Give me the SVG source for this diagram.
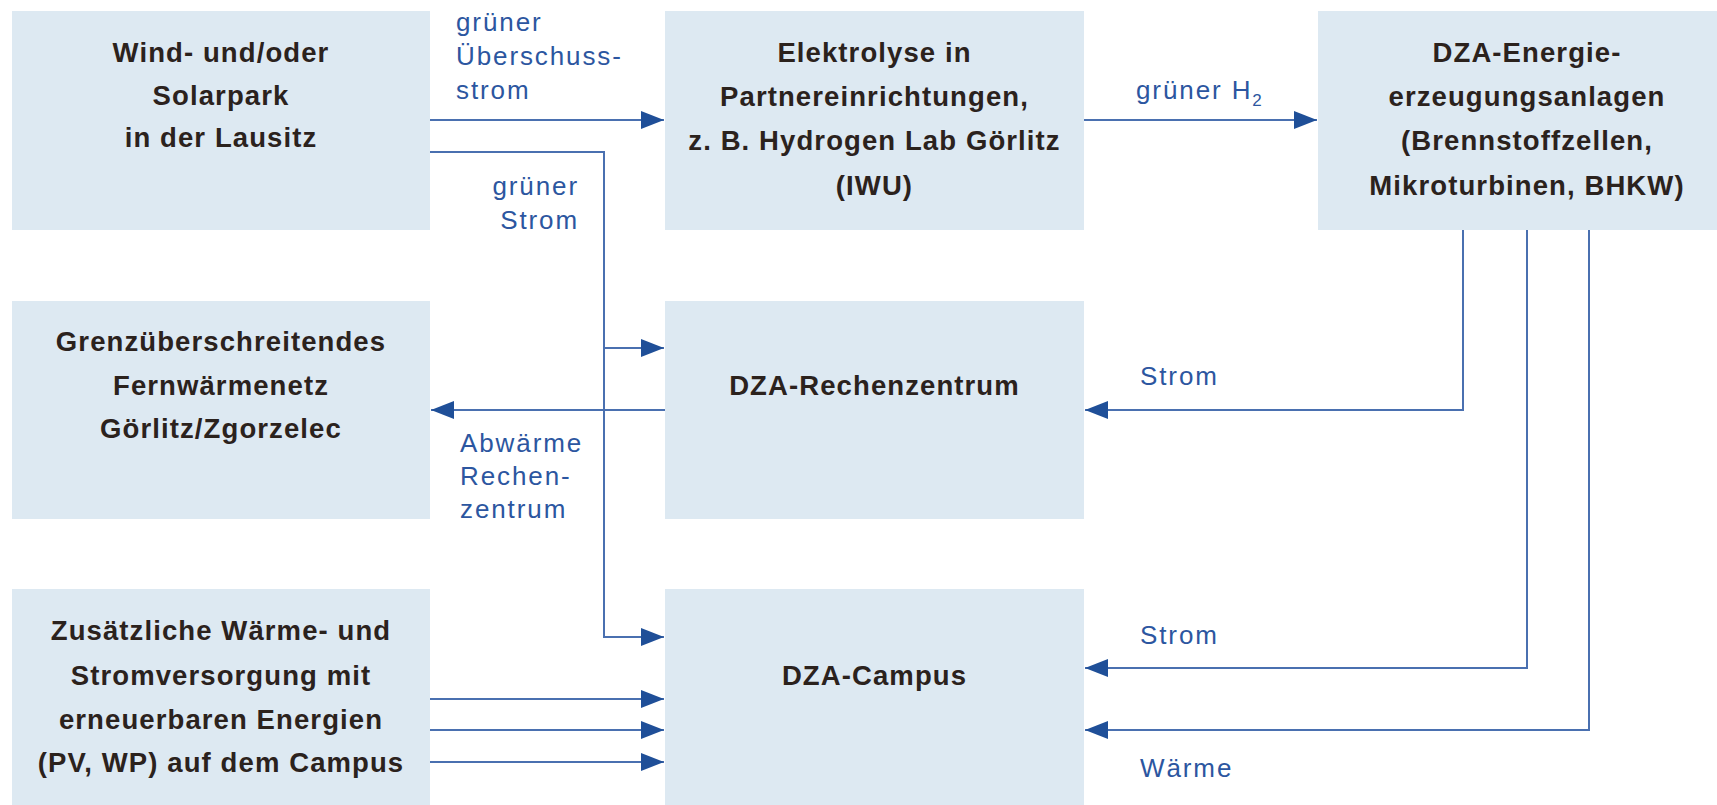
<svg xmlns="http://www.w3.org/2000/svg" width="1717" height="805" viewBox="0 0 1717 805">
<style>
.box{fill:#dde9f2}
.t{font-family:"Liberation Sans",Arial,sans-serif;font-weight:bold;font-size:27.5px;letter-spacing:1.1px;fill:#2b221d;text-anchor:middle}
.l{font-family:"Liberation Sans",Arial,sans-serif;font-size:26px;letter-spacing:1.9px;fill:#2c56a0}
.c{fill:none;stroke:#4a70b0;stroke-width:2}
.a{marker-end:url(#ah)}
</style>
<defs>
<marker id="ah" markerUnits="userSpaceOnUse" markerWidth="24" markerHeight="19" refX="23" refY="9" orient="auto" viewBox="0 0 24 18">
<path d="M0,0 L23,9 L0,18 Z" fill="#1f4f98"/>
</marker>
</defs>
<rect width="1717" height="805" fill="#ffffff"/>
<g id="wind">
<rect class="box" x="12" y="11" width="418" height="219"/>
<text class="t" x="221" y="62">Wind- und/oder</text>
<text class="t" x="221" y="104.5">Solarpark</text>
<text class="t" x="221" y="147">in der Lausitz</text>
</g>
<g id="elektrolyse">
<rect class="box" x="665" y="11" width="419" height="219"/>
<text class="t" x="874.5" y="62">Elektrolyse in</text>
<text class="t" x="874.5" y="106">Partnereinrichtungen,</text>
<text class="t" x="874.5" y="150">z. B. Hydrogen Lab Görlitz</text>
<text class="t" x="874.5" y="195">(IWU)</text>
</g>
<g id="energie">
<rect class="box" x="1318" y="11" width="418" height="219"/>
<text class="t" x="1527" y="62">DZA-Energie-</text>
<text class="t" x="1527" y="106">erzeugungsanlagen</text>
<text class="t" x="1527" y="150">(Brennstoffzellen,</text>
<text class="t" x="1527" y="195">Mikroturbinen, BHKW)</text>
</g>
<g id="fernwaerme">
<rect class="box" x="12" y="301" width="418" height="218"/>
<text class="t" x="221" y="351">Grenzüberschreitendes</text>
<text class="t" x="221" y="395">Fernwärmenetz</text>
<text class="t" x="221" y="438">Görlitz/Zgorzelec</text>
</g>
<g id="rechenzentrum">
<rect class="box" x="665" y="301" width="419" height="218"/>
<text class="t" x="874.5" y="395">DZA-Rechenzentrum</text>
</g>
<g id="zusatz">
<rect class="box" x="12" y="589" width="418" height="218"/>
<text class="t" x="221" y="640">Zusätzliche Wärme- und</text>
<text class="t" x="221" y="685">Stromversorgung mit</text>
<text class="t" x="221" y="729">erneuerbaren Energien</text>
<text class="t" x="221" y="772">(PV, WP) auf dem Campus</text>
</g>
<g id="campus">
<rect class="box" x="665" y="589" width="419" height="218"/>
<text class="t" x="874.5" y="685">DZA-Campus</text>
</g>
<g id="connectors">
<path class="c a" d="M430,120 H664"/>
<path class="c a" d="M430,152 H604 V637 H664"/>
<path class="c a" d="M604,348 H664"/>
<path class="c a" d="M1084,120 H1317"/>
<path class="c a" d="M665,410 H431"/>
<path class="c a" d="M1463,230 V410 H1085"/>
<path class="c a" d="M1527,230 V668 H1085"/>
<path class="c a" d="M1589,230 V730 H1085"/>
<path class="c a" d="M430,699 H664"/>
<path class="c a" d="M430,730 H664"/>
<path class="c a" d="M430,762 H664"/>
</g>
<g id="labels">
<text class="l" x="456" y="31">grüner</text>
<text class="l" x="456" y="65">Überschuss-</text>
<text class="l" x="456" y="99">strom</text>
<text class="l" x="579" y="195" text-anchor="end">grüner</text>
<text class="l" x="579" y="229" text-anchor="end">Strom</text>
<text class="l" x="1136" y="99">grüner H<tspan font-size="17" dy="7">2</tspan></text>
<text class="l" x="1140" y="385">Strom</text>
<text class="l" x="460" y="452">Abwärme</text>
<text class="l" x="460" y="485">Rechen-</text>
<text class="l" x="460" y="518">zentrum</text>
<text class="l" x="1140" y="644">Strom</text>
<text class="l" x="1140" y="777">Wärme</text>
</g>
</svg>
